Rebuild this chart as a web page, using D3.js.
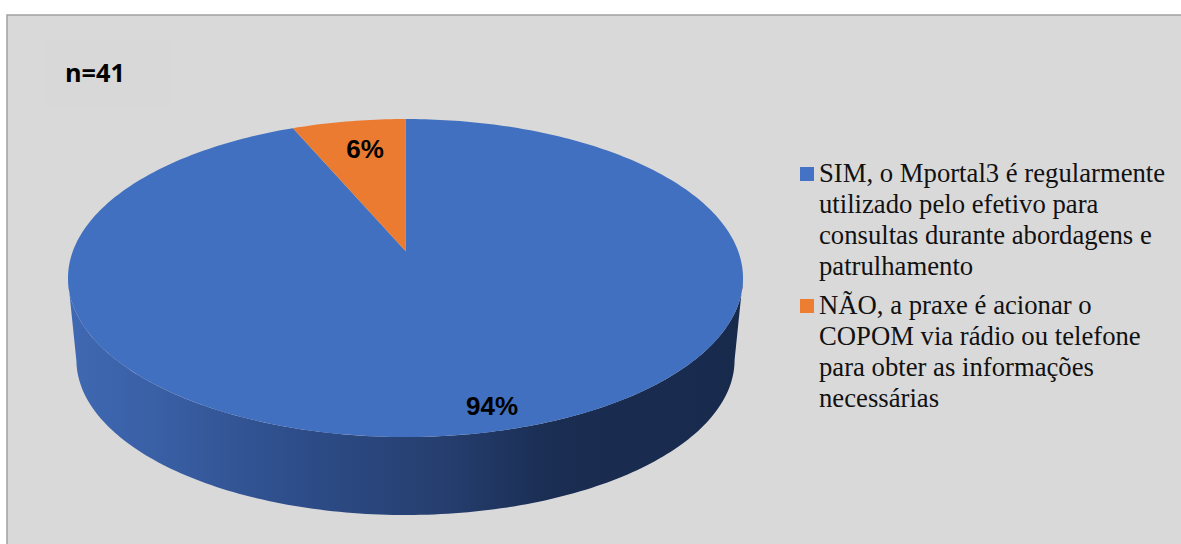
<!DOCTYPE html>
<html><head><meta charset="utf-8">
<script src="https://cdn.jsdelivr.net/npm/d3@7"></script>
<style>html,body{margin:0;padding:0;background:#fff}svg{display:block}</style></head>
<body><div id="c"></div>
<script>
const categories = ["SIM","NÃO"];
const values = [93.6, 6.4];
const colors = ["#4270c0", "#ea7b30"];
const legendLines = [
  ["SIM, o Mportal3 é regularmente","utilizado pelo efetivo para","consultas durante abordagens e","patrulhamento"],
  ["NÃO, a praxe é acionar o","COPOM via rádio ou telefone","para obter as informações","necessárias"]
];
const sampleText = "n=41";

const W=1181,H=544;
const svg=d3.select("#c").append("svg").attr("width",W).attr("height",H);
const defs=svg.append("defs");
const grad=defs.append("linearGradient").attr("id","side").attr("gradientUnits","userSpaceOnUse")
  .attr("x1",68).attr("x2",743).attr("y1",0).attr("y2",0);
[[0,"#3f69b3"],[0.12,"#3a60a6"],[0.35,"#2d4c88"],[0.55,"#263f70"],[0.72,"#1a2d52"],[1,"#182a4c"]]
  .forEach(d=>grad.append("stop").attr("offset",d[0]).attr("stop-color",d[1]));

svg.append("rect").attr("x",7).attr("y",15).attr("width",1180).attr("height",540)
  .attr("fill","#d9d9d9").attr("stroke","#a0a0a0").attr("stroke-width",1.5);
svg.append("rect").attr("x",44).attr("y",41).attr("width",127).attr("height",65).attr("fill","#d8d8d8");
svg.append("text").attr("x",65).attr("y",82).attr("font-family","'Open Sans',sans-serif")
  .attr("font-weight",700).attr("font-size",25.5).attr("textLength",60).attr("lengthAdjust","spacingAndGlyphs")
  .attr("fill","#000").text(sampleText);

// perspective projection of a unit disc to the tilted pie
const cx=405.5, apexY=251, k=0.17, A=332.6, B=154.4;
const proj=(a,dy=0,s=1)=>{
  const u=Math.sin(a), v=Math.cos(a), d=1+k*v;
  return [cx+s*A*u/d, apexY+dy-s*B*v/d];
};
const line=d3.line();
const arcs=d3.pie().sort(null).value(d=>d)(values);
// the large slice starts at 12 o'clock; the small one closes the circle just left of it
const step=Math.PI/180;

// extruded side: between the silhouette extremes of the top and bottom ellipses
const shrink=0.975, bottomY=515;
const bottomDy=bottomY-apexY-shrink*B/(1-k);
const ext=Math.acos(-k);
const lower=d3.range(ext,2*Math.PI-ext+step/2,step);
const sidePts=[...lower.map(a=>proj(a)),...lower.slice().reverse().map(a=>proj(a,bottomDy,shrink))];
svg.append("path").attr("d",line(sidePts)+"Z").attr("fill","url(#side)");

// top faces
arcs.forEach((d,i)=>{
  const pts=[[cx,apexY]];
  d3.range(d.startAngle,d.endAngle,step).forEach(a=>pts.push(proj(a)));
  pts.push(proj(d.endAngle));
  svg.append("path").attr("d",line(pts)+"Z").attr("fill",colors[i]);
});

// data labels
const fmt=d3.format(".0%"), tot=d3.sum(values);
const labelPos=[[492,415],[365,158]];
values.forEach((v,i)=>{
  svg.append("text").attr("x",labelPos[i][0]).attr("y",labelPos[i][1]).attr("text-anchor","middle")
    .attr("font-family","'Liberation Sans',sans-serif").attr("font-weight",700).attr("font-size",26)
    .attr("fill","#000").text(fmt(v/tot));
});

// legend
const legendX=[800,819], legendY=[182,314], lh=31;
legendLines.forEach((ls,i)=>{
  svg.append("rect").attr("x",legendX[0]).attr("y",legendY[i]-15).attr("width",14).attr("height",14).attr("fill",i?"#ed7d31":"#4472c4");
  ls.forEach((t,j)=>svg.append("text").attr("x",legendX[1]).attr("y",legendY[i]+j*lh)
    .attr("font-family","'Liberation Serif',serif").attr("font-size",26.7).attr("fill","#111").text(t));
});
</script></body></html>
